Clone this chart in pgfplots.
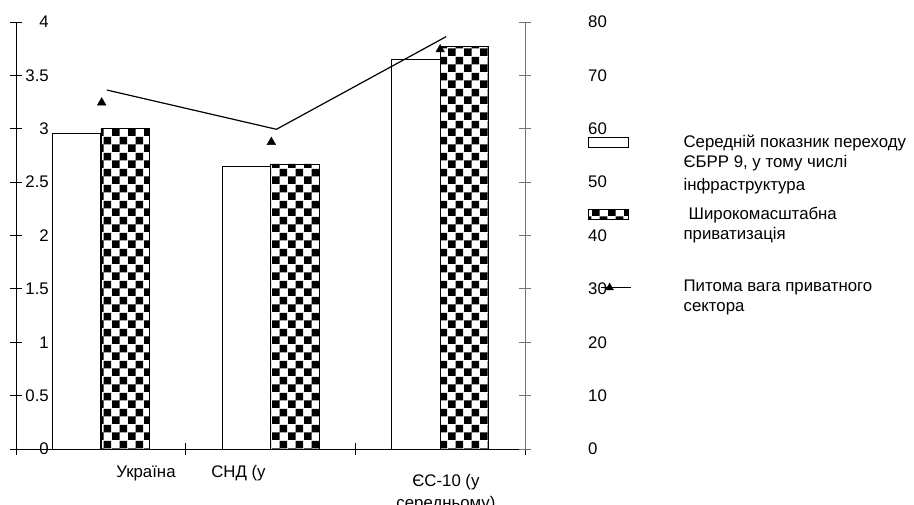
\documentclass[border=0pt]{standalone}
\usepackage{fontspec}
\setmainfont{Liberation Sans}
\usepackage{pgfplots}
\pgfplotsset{compat=1.18}
\usetikzlibrary{patterns}

% large black-and-white checkerboard fill for the privatisation bars
\pgfdeclarepatternformonly{chess}{\pgfqpoint{0pt}{0pt}}{\pgfqpoint{16pt}{16pt}}{\pgfqpoint{16pt}{16pt}}{%
  \pgfpathrectangle{\pgfqpoint{0pt}{0pt}}{\pgfqpoint{8pt}{8pt}}%
  \pgfpathrectangle{\pgfqpoint{8pt}{8pt}}{\pgfqpoint{8pt}{8pt}}%
  \pgfusepath{fill}}

\newcommand\chartfont{\fontsize{16.8}{20}\selectfont}

\begin{document}
\begin{tikzpicture}
\pgfplotsset{
  every axis/.append style={
    font=\chartfont,
    scale only axis, width=509pt, height=427pt,
    at={(16pt,55pt)}, anchor=south west,
    xmin=-0.5, xmax=2.5,
    tick align=center, major tick length=12pt,
    /pgf/number format/assume math mode=true,
  },
}
% left scale: transition indicators
\begin{axis}[
  ymin=0, ymax=4,
  axis y line*=left, axis x line*=bottom,
  axis line style={black, line width=0.8pt},
  tick style={black, line width=0.8pt},
  ytick={0,0.5,...,4},
  yticklabel style={anchor=east, inner sep=0pt, xshift=39pt},
  xtick={-0.5,0.5,1.5,2.5}, xticklabels={},
  extra x ticks={0.266,0.811,2.034},
  extra x tick labels={Україна, СНД (у, {\raisebox{-9pt}{\begin{tabular}[t]{@{}c@{}}ЄС-10 (у\\[2pt]середньому)\end{tabular}}}},
  extra x tick style={major tick length=0pt, xticklabel style={anchor=base, inner sep=0pt, yshift=-28pt}},
]
\addplot[ybar, bar width=48.5pt, bar shift=-24.25pt, draw=black, line width=0.8pt, fill=white]
  coordinates {(0,2.957) (1,2.645) (2,3.653)};
\addplot[ybar, bar width=48.5pt, bar shift=24.25pt, draw=black, line width=0.6pt, pattern=chess]
  coordinates {(0,3.004) (1,2.67) (2,3.775)};
\end{axis}

% right scale: private sector share, %
\begin{axis}[
  ymin=0, ymax=80,
  axis y line*=right, axis x line=none,
  axis line style={black!55, line width=0.8pt},
  tick style={black!55, line width=0.8pt},
  ytick={0,10,...,80},
  yticklabel style={anchor=west, inner sep=0pt, xshift=57pt},
  legend style={draw=none, fill=none, inner sep=0pt, column sep=0pt, row sep=0pt,
    at={(1.1238,0.7354)}, anchor=north west,
    nodes={inner sep=0pt, anchor=base west, text height=12pt, text depth=60pt}},
  legend cell align=left,
]
\addplot[black, line width=1.2pt, forget plot]
  coordinates {(0.035,67.26) (1.035,59.9) (2.035,77.25)};
\addplot[only marks, mark=triangle*, mark size=5pt, black, forget plot]
  coordinates {(0.005,64.9) (1.005,57.5) (2.0,74.85)};

\addlegendimage{legend image code/.code={%
  \draw[black, line width=0.8pt, fill=white] (0pt,0pt) rectangle (40pt,9.5pt);
  \path[draw=none, fill=none] (0pt,0pt) rectangle (95pt,9.5pt);}}
\addlegendentry{\parbox[t]{235pt}{Середній показник переходу\\ЄБРР 9, у тому числі\\[3pt]інфраструктура}}
\addlegendimage{legend image code/.code={%
  \draw[black, line width=0.6pt, pattern=chess] (0pt,0pt) rectangle (40pt,9.5pt);
  \path[draw=none, fill=none] (0pt,0pt) rectangle (95pt,9.5pt);}}
\addlegendentry{\parbox[t]{235pt}{\hspace{5pt}Широкомасштабна\\приватизація}}
\addlegendimage{legend image code/.code={%
  \draw[black, line width=1.2pt] (12pt,3.5pt) -- (42pt,3.5pt);
  \fill[black] (21pt,3.5pt) +(90:4.5pt) -- +(210:4.5pt) -- +(330:4.5pt) -- cycle;
  \path[draw=none, fill=none] (0pt,0pt) rectangle (95pt,9.5pt);}}
\addlegendentry{\parbox[t]{235pt}{Питома вага приватного\\сектора}}
\end{axis}

\pgfresetboundingbox
\useasboundingbox (0pt,0pt) rectangle (914pt,504pt);
\end{tikzpicture}
\end{document}
